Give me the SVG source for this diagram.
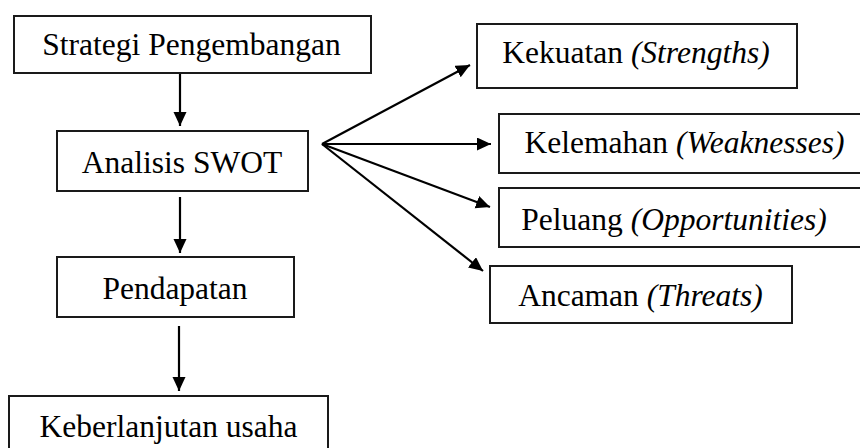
<svg xmlns="http://www.w3.org/2000/svg" width="860" height="448" viewBox="0 0 860 448">
<defs>
<style>
.box{fill:#fff;stroke:#1a1a1a;stroke-width:2}
.t{font-size:31.5px;fill:#000;text-anchor:middle}
.i{font-style:italic}
.c{stroke:#000;stroke-width:2.2;fill:none;marker-end:url(#ah)}
</style>
<marker id="ah" markerUnits="userSpaceOnUse" markerWidth="15" markerHeight="14" refX="14" refY="6.5" orient="auto">
<path d="M0,0 L14,6.5 L0,13 Z" fill="#000"/>
</marker>
</defs>
<rect width="860" height="448" fill="#fff"/>
<g id="connectors">
<line class="c" x1="180" y1="73" x2="180" y2="126"/>
<line class="c" x1="180" y1="197" x2="180" y2="253"/>
<line class="c" x1="179" y1="326" x2="179" y2="391"/>
<line class="c" x1="322" y1="144" x2="470" y2="65"/>
<line class="c" x1="322" y1="144" x2="491" y2="144"/>
<line class="c" x1="322" y1="144" x2="490" y2="207"/>
<line class="c" x1="322" y1="144" x2="483" y2="271"/>
</g>
<g font-family="Liberation Serif, DejaVu Serif, serif">
<g id="strategi">
<rect class="box" x="14" y="16" width="357" height="57"/>
<text class="t" x="191.5" y="55">Strategi Pengembangan</text>
</g>
<g id="swot">
<rect class="box" x="57" y="131" width="251" height="60"/>
<text class="t" x="182" y="173">Analisis SWOT</text>
</g>
<g id="pendapatan">
<rect class="box" x="57" y="257" width="237" height="60"/>
<text class="t" x="175" y="299">Pendapatan</text>
</g>
<g id="keberlanjutan">
<rect class="box" x="9" y="396" width="319" height="70"/>
<text class="t" x="168.5" y="437">Keberlanjutan usaha</text>
</g>
<g id="kekuatan">
<rect class="box" x="477" y="24" width="320" height="64"/>
<text class="t" x="636" y="63">Kekuatan <tspan class="i">(Strengths)</tspan></text>
</g>
<g id="kelemahan">
<rect class="box" x="499" y="114" width="370" height="59"/>
<text class="t" x="684.5" y="153">Kelemahan <tspan class="i">(Weaknesses)</tspan></text>
</g>
<g id="peluang">
<rect class="box" x="499" y="188" width="370" height="59"/>
<text class="t" x="674" y="230">Peluang <tspan class="i">(Opportunities)</tspan></text>
</g>
<g id="ancaman">
<rect class="box" x="490" y="266" width="302" height="57"/>
<text class="t" x="640.5" y="306">Ancaman <tspan class="i">(Threats)</tspan></text>
</g>
</g>
</svg>
